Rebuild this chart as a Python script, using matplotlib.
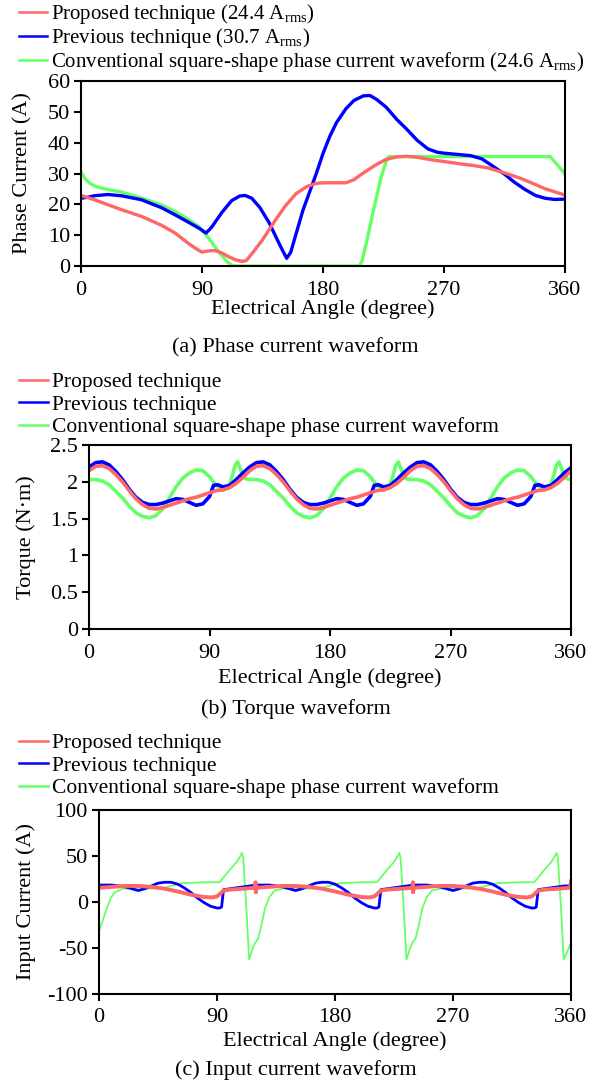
import matplotlib
matplotlib.use("Agg")
import matplotlib.pyplot as plt
from matplotlib.lines import Line2D

# --- fonts / general style ---
plt.rcParams["font.family"] = ["Liberation Serif", "DejaVu Serif"]
plt.rcParams["mathtext.fontset"] = "custom"
plt.rcParams["mathtext.rm"] = "Liberation Serif"
plt.rcParams["mathtext.it"] = "Liberation Serif:italic"
plt.rcParams["axes.unicode_minus"] = False

RED = "#FF6666"
BLUE = "#0000FF"
GREEN = "#66FF66"
FS = 16

# --- (a) phase current ---
phase_prop_deg = [0, 10, 20, 30, 45, 60, 70, 80, 85, 90, 93, 97, 100, 105, 110, 115, 120, 123,
                  128, 135, 144, 152, 160, 168, 175, 180, 190, 197, 203, 210, 220, 227, 235,
                  242, 250, 260, 270, 281, 292, 303, 315, 326, 335, 345, 360]
phase_prop = [22.9, 21.5, 19.9, 18.3, 16.1, 13.2, 10.7, 7.3, 5.8, 4.5, 4.8, 5.0, 5.0, 4.2, 3.0,
              2.0, 1.5, 1.8, 4.5, 8.5, 14.5, 19.5, 23.5, 25.8, 26.8, 27.0, 27.0, 27.0, 28.0,
              30.2, 33.0, 34.6, 35.4, 35.6, 35.3, 34.5, 33.9, 33.2, 32.6, 31.8, 30.2, 28.6,
              27.0, 25.1, 23.0]

phase_prev_deg = [0, 5, 10, 20, 30, 45, 60, 70, 80, 88, 93, 97, 105, 112, 118, 122, 127, 133,
                  140, 146, 150, 153, 156, 160, 165, 170, 175, 180, 185, 190, 197, 203, 210,
                  215, 220, 227, 235, 242, 250, 258, 265, 270, 280, 290, 298, 305, 315, 322,
                  330, 338, 345, 352, 360]
phase_prev = [22.0, 22.3, 22.8, 23.2, 22.8, 21.5, 18.9, 16.6, 14.2, 12.2, 10.7, 12.5, 17.5,
              21.2, 22.7, 22.9, 22.0, 19.0, 14.0, 8.5, 5.0, 2.5, 4.5, 10.5, 18.0, 24.0, 30.0,
              36.5, 42.0, 46.5, 51.0, 53.7, 55.2, 55.3, 54.0, 51.5, 47.5, 44.5, 40.8, 38.0,
              36.9, 36.6, 36.2, 35.8, 34.8, 32.8, 29.8, 27.3, 24.9, 22.9, 22.0, 21.6, 21.7]

phase_conv_deg = [0, 3, 6, 10, 15, 20, 30, 45, 60, 70, 80, 88, 95, 100, 105, 109, 112, 114,
                  207, 209, 213, 218, 223, 227, 229, 300, 349, 351, 356, 360]
phase_conv = [30.5, 28.3, 27.0, 26.0, 25.3, 24.8, 24.0, 22.1, 19.8, 17.7, 15.1, 12.7, 9.0,
              6.0, 3.3, 1.3, 0.3, 0.0, 0.0, 1.5, 9.0, 19.0, 28.5, 34.0, 35.5, 35.5, 35.5,
              34.5, 32.0, 29.8]

# --- (b) torque ---
torque_prop_deg = [
    0, 5, 10, 15, 20, 25, 30, 35, 40, 45, 50, 55, 60, 65, 70, 75, 80, 85, 90, 95, 100, 105, 110, 115,
    120, 125, 130, 135, 140, 145, 150, 155, 160, 165, 170, 175, 180, 185, 190, 195, 200, 205, 210, 215, 220, 225, 230, 235,
    240, 245, 250, 255, 260, 265, 270, 275, 280, 285, 290, 295, 300, 305, 310, 315, 320, 325, 330, 335, 340, 345, 350, 355,
    360]
torque_prop = [
    2.15, 2.21, 2.22, 2.18, 2.10, 2.00, 1.88, 1.77, 1.69, 1.64, 1.63, 1.65, 1.68, 1.71, 1.74, 1.77, 1.79, 1.82, 1.85, 1.88, 1.89, 1.92, 1.98, 2.06,
    2.15, 2.21, 2.22, 2.18, 2.10, 2.00, 1.88, 1.77, 1.69, 1.64, 1.63, 1.65, 1.68, 1.71, 1.74, 1.77, 1.79, 1.82, 1.85, 1.88, 1.89, 1.92, 1.98, 2.06,
    2.15, 2.21, 2.22, 2.18, 2.10, 2.00, 1.88, 1.77, 1.69, 1.64, 1.63, 1.65, 1.68, 1.71, 1.74, 1.77, 1.79, 1.82, 1.85, 1.88, 1.89, 1.92, 1.98, 2.06,
    2.15]

torque_prev_deg = [
    0, 5, 10, 15, 20, 25, 30, 35, 40, 45, 50, 55, 60, 65, 70, 75, 80, 85, 90, 93, 96, 100, 105, 110, 115,
    120, 125, 130, 135, 140, 145, 150, 155, 160, 165, 170, 175, 180, 185, 190, 195, 200, 205, 210, 213, 216, 220, 225, 230, 235,
    240, 245, 250, 255, 260, 265, 270, 275, 280, 285, 290, 295, 300, 305, 310, 315, 320, 325, 330, 333, 336, 340, 345, 350, 355,
    360]
torque_prev = [
    2.20, 2.26, 2.27, 2.23, 2.14, 2.03, 1.90, 1.79, 1.72, 1.69, 1.69, 1.71, 1.74, 1.77, 1.76, 1.72, 1.68, 1.70, 1.80, 1.95, 1.96, 1.93, 1.95, 2.03, 2.12,
    2.20, 2.26, 2.27, 2.23, 2.14, 2.03, 1.90, 1.79, 1.72, 1.69, 1.69, 1.71, 1.74, 1.77, 1.76, 1.72, 1.68, 1.70, 1.80, 1.95, 1.96, 1.93, 1.95, 2.03, 2.12,
    2.20, 2.26, 2.27, 2.23, 2.14, 2.03, 1.90, 1.79, 1.72, 1.69, 1.69, 1.71, 1.74, 1.77, 1.76, 1.72, 1.68, 1.70, 1.80, 1.95, 1.96, 1.93, 1.95, 2.03, 2.12,
    2.19]

torque_conv_deg = [
    0, 5, 10, 15, 20, 25, 30, 35, 40, 45, 50, 55, 60, 65, 70, 75, 80, 85, 90, 95, 100, 104, 107, 109, 111, 113, 115, 117,
    120, 125, 130, 135, 140, 145, 150, 155, 160, 165, 170, 175, 180, 185, 190, 195, 200, 205, 210, 215, 220, 224, 227, 229, 231, 233, 235, 237,
    240, 245, 250, 255, 260, 265, 270, 275, 280, 285, 290, 295, 300, 305, 310, 315, 320, 325, 330, 335, 340, 344, 347, 349, 351, 353, 355, 357,
    360]
torque_conv = [
    2.03, 2.03, 2.01, 1.96, 1.87, 1.78, 1.67, 1.58, 1.53, 1.51, 1.54, 1.63, 1.78, 1.93, 2.05, 2.12, 2.16, 2.15, 2.07, 1.95, 1.89, 1.92, 2.08, 2.22, 2.27, 2.18, 2.08, 2.04,
    2.03, 2.03, 2.01, 1.96, 1.87, 1.78, 1.67, 1.58, 1.53, 1.51, 1.54, 1.63, 1.78, 1.93, 2.05, 2.12, 2.16, 2.15, 2.07, 1.95, 1.89, 1.92, 2.08, 2.22, 2.27, 2.18, 2.08, 2.04,
    2.03, 2.03, 2.01, 1.96, 1.87, 1.78, 1.67, 1.58, 1.53, 1.51, 1.54, 1.63, 1.78, 1.93, 2.05, 2.12, 2.16, 2.15, 2.07, 1.95, 1.89, 1.92, 2.08, 2.22, 2.27, 2.18, 2.08, 2.04,
    2.03]

# --- (c) input current ---
input_prop_deg = [
    0, 10, 20, 30, 40, 50, 60, 70, 80, 86, 90, 92, 95, 100, 110, 119, 119.4, 119.6, 120,
    130, 140, 150, 160, 170, 180, 190, 200, 206, 210, 212, 215, 220, 230, 239, 239.4, 239.6, 240,
    250, 260, 270, 280, 290, 300, 310, 320, 326, 330, 332, 335, 340, 350, 359, 359.5, 360]
input_prop = [
    15, 16, 17, 17, 16, 14, 11, 7.5, 5, 4.5, 5.5, 8, 12, 13, 14, 15, 21, 10, 15,
    16, 17, 17, 16, 14, 11, 7.5, 5, 4.5, 5.5, 8, 12, 13, 14, 15, 21, 10, 15,
    16, 17, 17, 16, 14, 11, 7.5, 5, 4.5, 5.5, 8, 12, 13, 14, 15, 16, 22]

input_prev_deg = [
    0, 5, 10, 15, 20, 25, 30, 35, 40, 45, 50, 55, 60, 65, 70, 75, 80, 85, 90, 92, 93.5, 95, 100, 105, 110, 115,
    120, 125, 130, 135, 140, 145, 150, 155, 160, 165, 170, 175, 180, 185, 190, 195, 200, 205, 210, 212, 213.5, 215, 220, 225, 230, 235,
    240, 245, 250, 255, 260, 265, 270, 275, 280, 285, 290, 295, 300, 305, 310, 315, 320, 325, 330, 332, 333.5, 335, 340, 345, 350, 355,
    360]
input_prev = [
    18, 18, 18, 17, 16, 14, 12, 14, 17, 20, 21, 21, 19, 15, 10, 4, -1, -5, -7, -7, -6, 13, 14, 15, 16, 17,
    18, 18, 18, 17, 16, 14, 12, 14, 17, 20, 21, 21, 19, 15, 10, 4, -1, -5, -7, -7, -6, 13, 14, 15, 16, 17,
    18, 18, 18, 17, 16, 14, 12, 14, 17, 20, 21, 21, 19, 15, 10, 4, -1, -5, -7, -7, -6, 13, 14, 15, 16, 17,
    17]

input_conv_deg = [
    0, 3, 6, 9, 12, 18, 30, 40, 50, 58, 64, 80, 92, 100, 105, 108, 109, 110, 111, 112.5, 114.5,
    117, 119, 121.5, 124, 126.5, 130, 134, 140, 150, 160, 170, 178, 184, 200, 212, 220, 225, 228, 229, 230, 231, 232.5, 234.5,
    237, 239, 241.5, 244, 246.5, 250, 254, 260, 270, 280, 290, 298, 304, 320, 332, 340, 345, 348, 349, 350, 351, 352.5, 354.5,
    357, 360]
input_conv = [
    -32, -20, -7, 4, 10, 14, 15, 14, 15, 18, 20, 21, 21, 35, 43, 50, 53, 48, 25, -10, -63,
    -52, -45, -40, -25, -8, 5, 12, 14, 15, 14, 15, 18, 20, 21, 21, 35, 43, 50, 53, 48, 25, -10, -63,
    -52, -45, -40, -25, -8, 5, 12, 14, 15, 14, 15, 18, 20, 21, 21, 35, 43, 50, 53, 48, 25, -10, -63,
    -55, -45]

x_ticks = [0, 90, 180, 270, 360]

labels_a = ["Proposed technique (24.4 A$_{\\mathrm{rms}}$)",
            "Previous technique (30.7 A$_{\\mathrm{rms}}$)",
            "Conventional square-shape phase current waveform (24.6 A$_{\\mathrm{rms}}$)"]
labels_bc = ["Proposed technique", "Previous technique",
             "Conventional square-shape phase current waveform"]


def style_axes(ax, yticks, ylabels, ylim, ylabel, ylabelpad, xlabelpad):
    ax.set_xlim(0, 360)
    ax.set_ylim(*ylim)
    ax.set_xticks(x_ticks)
    ax.set_yticks(yticks)
    ax.set_yticklabels(ylabels)
    ax.tick_params(direction="out", length=5, width=1.5, labelsize=FS, pad=3)
    ax.tick_params(axis="x", pad=5.5)
    for sp in ax.spines.values():
        sp.set_linewidth(1.5)
    ax.set_xlabel("Electrical Angle (degree)", fontsize=FS, labelpad=xlabelpad)
    ax.set_ylabel(ylabel, fontsize=FS, labelpad=ylabelpad)


def add_legend(fig, labels, y_top, spacing, size):
    handles = [Line2D([], [], color=c, lw=1.8) for c in (RED, BLUE, GREEN)]
    fig.legend(handles, labels, loc="upper left", bbox_to_anchor=(0.031, y_top),
               frameon=False, fontsize=size, handlelength=1.35, handletextpad=0.2,
               labelspacing=spacing, borderpad=0, borderaxespad=0)


fig = plt.figure(figsize=(5.97, 10.85), dpi=100)

ax_a = fig.add_axes([0.1357, 0.7548, 0.8107, 0.1705])
ax_a.plot(phase_conv_deg, phase_conv, color=GREEN, lw=2.4)
ax_a.plot(phase_prev_deg, phase_prev, color=BLUE, lw=2.4)
ax_a.plot(phase_prop_deg, phase_prop, color=RED, lw=2.4)
style_axes(ax_a, range(0, 61, 10), [str(v) for v in range(0, 61, 10)], (0, 60),
           "Phase Current (A)", 11, 0)
add_legend(fig, labels_a, 1 - 2 / 1085, 0.0, 15.0)
fig.text(0.495, 1 - 348 / 1085, "(a) Phase current waveform", ha="center", va="center", fontsize=FS)

ax_b = fig.add_axes([0.1491, 0.4203, 0.8074, 0.1696])
ax_b.plot(torque_conv_deg, torque_conv, color=GREEN, lw=2.6)
ax_b.plot(torque_prev_deg, torque_prev, color=BLUE, lw=2.6)
ax_b.plot(torque_prop_deg, torque_prop, color=RED, lw=2.6)
style_axes(ax_b, [0, 0.5, 1, 1.5, 2, 2.5], ["0", "0.5", "1", "1.5", "2", "2.5"], (0, 2.5),
           "Torque (N\u00b7m)", 10, 4)
add_legend(fig, labels_bc, 1 - 372 / 1085, 0.12, 15.5)
fig.text(0.495, 1 - 709 / 1085, "(b) Torque waveform", ha="center", va="center", fontsize=FS)

ax_c = fig.add_axes([0.1658, 0.0843, 0.7906, 0.1695])
ax_c.plot(input_conv_deg, input_conv, color=GREEN, lw=1.3)
ax_c.plot(input_prev_deg, input_prev, color=BLUE, lw=2.0)
ax_c.plot(input_prop_deg, input_prop, color=RED, lw=2.8)
style_axes(ax_c, range(-100, 101, 50), [str(v) for v in range(-100, 101, 50)], (-100, 100),
           "Input Current (A)", 8, 3)
add_legend(fig, labels_bc, 1 - 733 / 1085, 0.12, 15.5)
fig.text(0.495, 1 - 1070 / 1085, "(c) Input current waveform", ha="center", va="center", fontsize=FS)

fig.savefig("out.png", dpi=100)
